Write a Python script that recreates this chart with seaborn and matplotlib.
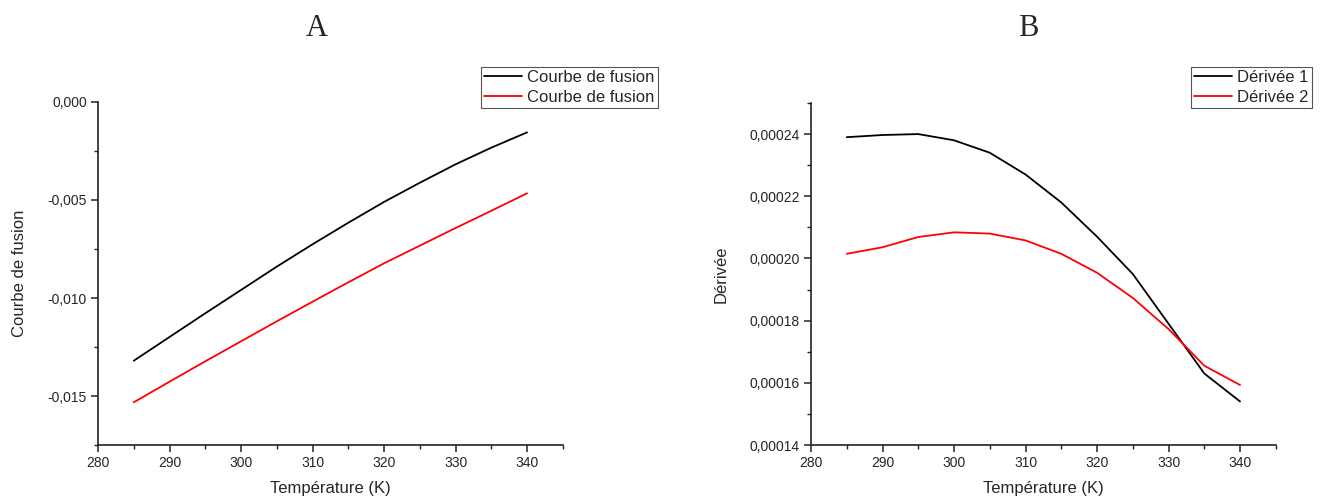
import numpy as np
import pandas as pd
import matplotlib
matplotlib.use("Agg")
import matplotlib.pyplot as plt
import seaborn as sns
from matplotlib.ticker import MultipleLocator, FuncFormatter

# temperatures (K)
temperature = [285, 290, 295, 300, 305, 310, 315, 320, 325, 330, 335, 340]

# panel A
fusion_1 = [-0.01320, -0.01199, -0.01078, -0.00959, -0.00840, -0.00726,
            -0.00616, -0.00510, -0.00412, -0.00318, -0.00233, -0.00155]
fusion_2 = [-0.01532, -0.01427, -0.01323, -0.01221, -0.01119, -0.01019,
            -0.00920, -0.00823, -0.00733, -0.00643, -0.00555, -0.00466]
labels_a = ["Courbe de fusion", "Courbe de fusion"]

# panel B
derivee_1 = [0.0002390, 0.0002397, 0.0002400, 0.0002380, 0.0002340, 0.0002270,
             0.0002180, 0.0002070, 0.0001950, 0.0001790, 0.0001630, 0.0001540]
derivee_2 = [0.0002015, 0.0002036, 0.0002069, 0.0002084, 0.0002080, 0.0002058,
             0.0002015, 0.0001954, 0.0001873, 0.0001773, 0.0001655, 0.0001593]
labels_b = ["Dérivée 1", "Dérivée 2"]

colors = ["black", "red"]

sns.set_theme(style="ticks")
plt.rcParams["font.family"] = ["Liberation Sans", "DejaVu Sans"]


def comma_fmt(decimals):
    return FuncFormatter(lambda v, pos: f"{v:.{decimals}f}".replace(".", ","))


def style_axis(ax, xlabel, ylabel):
    for side in ["top", "right"]:
        ax.spines[side].set_visible(False)
    for side in ["left", "bottom"]:
        ax.spines[side].set_linewidth(1.2)
        ax.spines[side].set_color("#222222")
    ax.set_xlim(280, 345)
    ax.xaxis.set_major_locator(MultipleLocator(10))
    ax.xaxis.set_minor_locator(MultipleLocator(5))
    ax.tick_params(which="major", direction="out", length=5, width=1.1,
                   labelsize=10, color="#222222", pad=3)
    ax.tick_params(which="minor", direction="out", length=3, width=1.0,
                   color="#222222")
    ax.set_xlabel(xlabel, fontsize=12, labelpad=8)
    ax.set_ylabel(ylabel, fontsize=12, labelpad=15)


fig = plt.figure(figsize=(13.28, 4.98), dpi=100)
ax_a = fig.add_axes([0.0738, 0.1064, 0.350, 0.6888])
ax_b = fig.add_axes([0.6107, 0.1064, 0.350, 0.6868])

# Panel A
df_a = pd.DataFrame({"T": temperature, "s1": fusion_1, "s2": fusion_2})
sns.lineplot(data=df_a, x="T", y="s1", color=colors[0], lw=1.3, label=labels_a[0], ax=ax_a)
sns.lineplot(data=df_a, x="T", y="s2", color=colors[1], lw=1.3, label=labels_a[1], ax=ax_a)
style_axis(ax_a, "Température (K)", "Courbe de fusion")
ax_a.set_ylim(-0.0175, 0.0)
ax_a.yaxis.set_major_locator(MultipleLocator(0.005))
ax_a.yaxis.set_minor_locator(MultipleLocator(0.0025))
ax_a.yaxis.set_major_formatter(comma_fmt(3))

# Panel B
df_b = pd.DataFrame({"T": temperature, "d1": derivee_1, "d2": derivee_2})
sns.lineplot(data=df_b, x="T", y="d1", color=colors[0], lw=1.3, label=labels_b[0], ax=ax_b)
sns.lineplot(data=df_b, x="T", y="d2", color=colors[1], lw=1.3, label=labels_b[1], ax=ax_b)
style_axis(ax_b, "Température (K)", "Dérivée")
ax_b.set_ylim(0.00014, 0.00025)
ax_b.yaxis.set_major_locator(MultipleLocator(0.00002))
ax_b.yaxis.set_minor_locator(MultipleLocator(0.00001))
ax_b.yaxis.set_major_formatter(comma_fmt(5))

for ax, right in [(ax_a, 0.4955), (ax_b, 0.9880)]:
    leg = ax.legend(loc="upper right", bbox_to_anchor=(right, 0.866),
                    bbox_transform=fig.transFigure, fontsize=12,
                    frameon=True, fancybox=False, framealpha=1,
                    edgecolor="#555555", borderpad=0.2, handlelength=2.3,
                    handletextpad=0.3, labelspacing=0.3, borderaxespad=0)
    leg.get_frame().set_linewidth(0.8)

# panel letters
fig.text(317 / 1328, 1 - 28 / 498, "A", ha="center", va="center",
         fontsize=22, family=["Liberation Serif", "DejaVu Serif"])
fig.text(1028 / 1328, 1 - 28 / 498, "B", ha="center", va="center",
         fontsize=22, family=["Liberation Serif", "DejaVu Serif"])

fig.savefig("out.png", dpi=100)
